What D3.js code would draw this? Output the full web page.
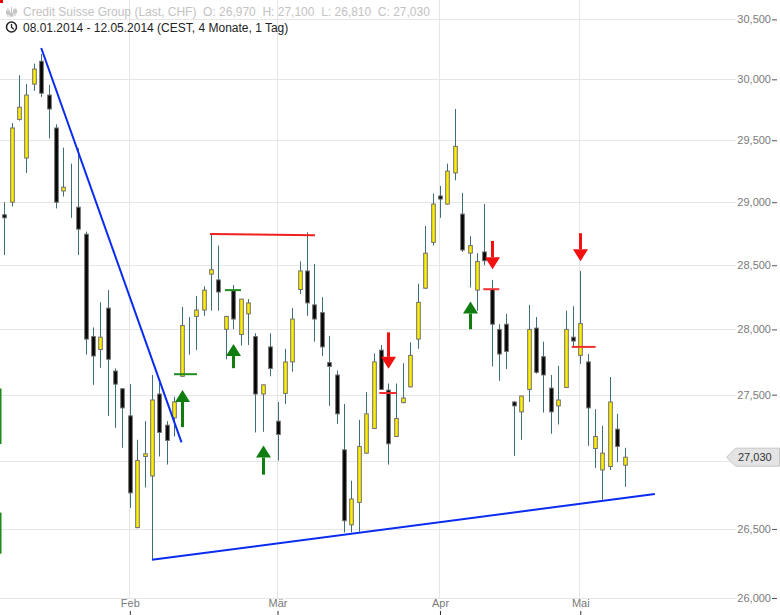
<!DOCTYPE html>
<html><head><meta charset="utf-8">
<script src="https://cdn.jsdelivr.net/npm/d3@7"></script>
<style>
body{margin:0;background:#fff}
svg{display:block}
text{font-family:"Liberation Sans",Arial,sans-serif}
</style>
</head><body>
<svg id="chart" width="780" height="615"></svg>
<script>
// ---- data (Credit Suisse Group, daily, 08.01.2014 - 12.05.2014) ----
const opens  = [28900,29000,29670,29355,29960,30150,29870,29600,29090,29120,28960,28745,27945,27845,28165,27680,27545,27340,26510,27035,
                26890,27505,27270,27325,27640,28080,28100,28150,28430,28385,28000,28300,27960,28120,27945,27505,27865,27300,27510,27750,
                28310,28455,28190,28130,27745,27650,27085,26530,26695,27060,27245,27840,27535,27185,27440,27560,27925,28320,28680,29050,
                28985,29235,28905,28595,28305,28605,28310,28000,28040,27445,27370,27540,28010,27790,27550,27415,27555,27940,27800,27750,
                27095,26935,26960,27240,26970];
const highs  = [29000,29640,30035,29960,30130,30210,29955,29630,29440,29310,29435,28765,28015,28210,28305,27700,27550,27580,27160,27300,
                27650,27590,27300,27485,28175,28095,28260,28335,28745,28655,28105,28345,28235,28235,27970,27575,27970,27445,27850,28165,
                28530,28760,28510,28250,27950,27685,27430,26855,27310,27520,27815,27880,27585,27585,27740,27900,28355,28810,29070,29130,
                29310,29755,29075,28730,28595,28985,28385,28040,28120,27450,27490,28190,28095,27905,27650,27720,28145,28180,28455,27810,
                27390,27265,27635,27355,27100];
const lows   = [28580,28965,29660,29235,29905,29855,29515,28950,29045,28875,28580,27805,27575,27705,27340,27250,27100,26655,26505,26805,
                26275,27035,26975,27185,27635,27805,27840,28105,28145,28145,27770,28000,27875,27880,27215,27220,27640,27005,27430,27675,
                28275,28105,27905,27795,27415,27280,26475,26475,26480,27055,27240,27540,26975,27180,27435,27555,27850,28315,28655,28875,
                28980,29175,28605,28325,28145,28500,27715,27605,27695,27040,27160,27445,27660,27365,27205,27275,27555,27870,27735,27115,
                26950,26715,26935,26995,26810];
const closes = [28875,29600,29770,29870,30085,29885,29755,29000,29120,29120,28785,27925,27795,27940,27770,27580,27400,26765,27005,27055,
                27460,27215,27155,27445,28030,28080,28150,28305,28465,28290,28100,28080,28235,28205,27505,27575,27700,27200,27750,28080,
                28455,28205,28080,27865,27715,27355,26560,26720,27110,27355,27750,27540,27130,27320,27475,27800,28210,28595,28985,29025,
                29250,29450,28620,28655,28530,28535,28040,27810,27830,27415,27490,28000,27670,27650,27370,27460,28000,27910,28045,27400,
                27185,27060,27445,27110,27030];

const priceTicks = [26000,26500,27000,27500,28000,28500,29000,29500,30000,30500];
const hiddenTickLabels = [27000]; // covered by the last-price marker in the reference
const monthLabels = ["Feb","Mär","Apr","Mai"];
const monthStartIdx = [17,37,59,78];

// trend lines: [index, price] endpoints
const blueLines = [[[5,30260],[24,27140]], [[20,26275],[88.1,26757]]];
const redLines  = [[[27.85,28747],[42.07,28736]]];
// signal arrows: candle index, tail price, tip price
const buySignals  = [{i:24,tail:27255,tip:27536},{i:31,tail:27702,tip:27887},{i:35,tail:26900,tip:27117},{i:63,tail:28001,tip:28216}];
const sellSignals = [{i:52,tail:27977,tip:27697},{i:66,tail:28692,tip:28468},{i:78,tail:28753,tip:28531}];
// short horizontal level marks
const buyLevels  = [{from:22.98,to:26.09,price:27656},{from:29.89,to:32.05,price:28305}];
const sellLevels = [{from:50.78,to:53.13,price:27513},{from:64.86,to:67.03,price:28312},{from:76.83,to:80.08,price:27865}];
// clipped markers at left edge (price ranges)
const edgeMarks = [[27128,27547],[26320,26620]];

const lastPrice = 27030;
const header1 = "Credit Suisse Group (Last, CHF)  O: 26,970  H: 27,100  L: 26,810  C: 27,030";
const header2 = "08.01.2014 - 12.05.2014 (CEST, 4 Monate, 1 Tag)";

// ---- scales ----
const svg = d3.select("#chart");
const x = d3.scaleLinear().domain([0, opens.length - 1]).range([4.3, 624.6]);
const y = d3.scaleLog().domain([26000, 30500]).range([598, 19.4]);
const gridRight = 736;

// grid
const grid = svg.append("g");
grid.selectAll("line.h").data(priceTicks).join("line")
  .attr("x1", 0).attr("x2", gridRight)
  .attr("y1", d => Math.round(y(d)) + 0.5).attr("y2", d => Math.round(y(d)) + 0.5)
  .attr("stroke", "#e6e6e6").attr("stroke-width", 1);
grid.selectAll("line.v").data(monthStartIdx).join("line")
  .attr("x1", d => Math.round(x(d)) - 0.5).attr("x2", d => Math.round(x(d)) - 0.5)
  .attr("y1", 0).attr("y2", 598)
  .attr("stroke", "#e6e6e6").attr("stroke-width", 1);

// header
const hdr = svg.append("g");
hdr.append("rect").attr("x",0).attr("y",0).attr("width",3).attr("height",3).attr("fill","#e00");
const ic = hdr.append("g").attr("stroke","#c4c4c4").attr("fill","none").attr("stroke-width",1);
[[8,8,17,11],[11.5,7,17,13],[15,8,16,10]].forEach(([cx,y1,y2,b]) => {
  ic.append("line").attr("x1",cx).attr("x2",cx).attr("y1",y1).attr("y2",y2);
  ic.append("rect").attr("x",cx-1.5).attr("y",b).attr("width",3).attr("height",3).attr("fill","#c4c4c4");
});
hdr.append("text").attr("x",23).attr("y",16).attr("font-size",12).attr("fill","#c2c2c2").attr("xml:space","preserve").text(header1);
hdr.append("circle").attr("cx",11.5).attr("cy",27).attr("r",5).attr("fill","none").attr("stroke","#222").attr("stroke-width",1.5);
hdr.append("path").attr("d","M11.5,24 V27.3 L13.8,29.3").attr("fill","none").attr("stroke","#222").attr("stroke-width",1.3);
hdr.append("text").attr("x",23).attr("y",32).attr("font-size",12).attr("fill","#222").text(header2);

// edge marks
svg.append("g").selectAll("rect").data(edgeMarks).join("rect")
  .attr("x",0).attr("width",1.5)
  .attr("y", d => y(d[1])).attr("height", d => y(d[0]) - y(d[1]))
  .attr("fill","#1a8a1a");

// candles
const idx = d3.range(opens.length);
const cg = svg.append("g");
cg.selectAll("line.wick").data(idx).join("line")
  .attr("x1", i => Math.round(x(i)) + 0.5).attr("x2", i => Math.round(x(i)) + 0.5)
  .attr("y1", i => y(highs[i])).attr("y2", i => y(lows[i]))
  .attr("stroke", "#3e6e77").attr("stroke-width", 1);
const bw = 3.6;
cg.selectAll("rect.body").data(idx).join("rect")
  .attr("x", i => Math.round(x(i)) + 0.5 - bw/2)
  .attr("width", bw)
  .attr("y", i => y(Math.max(opens[i], closes[i])))
  .attr("height", i => Math.abs(y(opens[i]) - y(closes[i])))
  .attr("fill", i => closes[i] >= opens[i] ? "#ffee00" : "#000")
  .attr("stroke", "#6e6e6e").attr("stroke-width", 1);

// trend lines
const lineGen = d3.line().x(d => x(d[0])).y(d => y(d[1]));
svg.append("g").selectAll("path").data(blueLines).join("path")
  .attr("d", lineGen).attr("stroke","#0a2cf0").attr("stroke-width",2).attr("fill","none");
svg.append("g").selectAll("path").data(redLines).join("path")
  .attr("d", lineGen).attr("stroke","#f02020").attr("stroke-width",2).attr("fill","none");

// level marks
svg.append("g").selectAll("line").data(buyLevels).join("line")
  .attr("x1", d => x(d.from)).attr("x2", d => x(d.to))
  .attr("y1", d => y(d.price)).attr("y2", d => y(d.price))
  .attr("stroke","#1e8c1e").attr("stroke-width",2);
svg.append("g").selectAll("line").data(sellLevels).join("line")
  .attr("x1", d => x(d.from)).attr("x2", d => x(d.to))
  .attr("y1", d => y(d.price)).attr("y2", d => y(d.price))
  .attr("stroke","#f03030").attr("stroke-width",2);

// arrows
function arrow(g, d, color, up) {
  const cx = Math.round(x(d.i)) + 0.5;
  const tip = y(d.tip), tail = y(d.tail);
  const hh = 12, hw = 7.5;
  const base = up ? tip + hh : tip - hh;
  g.append("line").attr("x1",cx).attr("x2",cx).attr("y1",tail).attr("y2",base)
    .attr("stroke",color).attr("stroke-width",3);
  g.append("path").attr("d", `M${cx},${tip} L${cx-hw},${base} L${cx+hw},${base} Z`).attr("fill",color);
}
const ag = svg.append("g");
buySignals.forEach(d => arrow(ag, d, "#0f7d0f", true));
sellSignals.forEach(d => arrow(ag, d, "#f21010", false));

// right price axis
const fmt = d3.format(",");
const yAxis = d3.axisLeft(y).tickValues(priceTicks)
  .tickFormat(d => hiddenTickLabels.includes(d) ? "" : fmt(d))
  .tickSizeInner(5).tickSizeOuter(0).tickPadding(1);
const ya = svg.append("g").attr("transform","translate(777,0)").call(yAxis);
ya.select(".domain").remove();
ya.selectAll("line").attr("stroke","#555");
ya.selectAll("text").attr("font-size",11).attr("fill","#7a7a7a").attr("font-family","'Liberation Sans',Arial,sans-serif");

// month axis
const xAxis = d3.axisTop(x).tickValues(monthStartIdx).tickFormat((d,k) => monthLabels[k]).tickSizeInner(4).tickSizeOuter(0).tickPadding(4);
const xa = svg.append("g").attr("transform","translate(0,615)").call(xAxis);
xa.select(".domain").remove();
xa.selectAll("line").attr("stroke","#333");
xa.selectAll("text").attr("font-size",11).attr("fill","#7a7a7a").attr("font-family","'Liberation Sans',Arial,sans-serif");

// last price marker
const ly = y(lastPrice);
svg.append("path")
  .attr("d", `M726.5,${ly} L735.5,${ly-9} L779.5,${ly-9} L779.5,${ly+9} L735.5,${ly+9} Z`)
  .attr("fill","#e4e4e4").attr("stroke","#c6c6c6").attr("stroke-width",1);
svg.append("text").attr("x",738).attr("y",ly+4).attr("font-size",11).attr("fill","#333").text(fmt(lastPrice));
</script>
</body></html>
